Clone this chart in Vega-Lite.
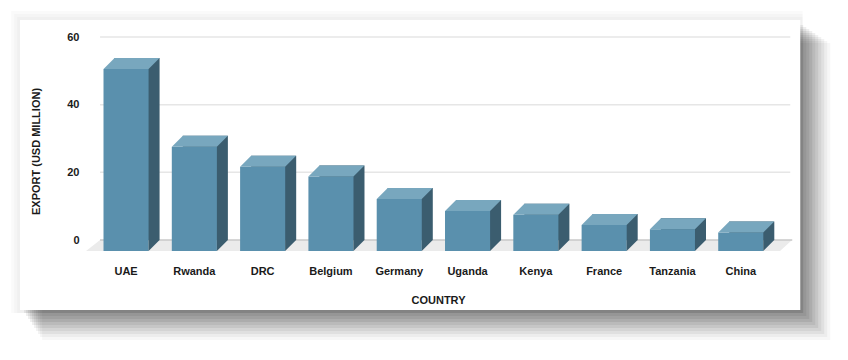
{
  "$schema": "https://vega.github.io/schema/vega-lite/v6.json",
  "width": 704,
  "height": 214,
  "autosize": "none",
  "padding": {"left": 86, "top": 37, "right": 58, "bottom": 109},
  "background": "#ffffff",
  "config": {
    "view": {"stroke": null},
    "font": "Liberation Sans",
    "axis": {
      "labelFont": "Liberation Sans",
      "labelFontWeight": "bold",
      "labelFontSize": 11,
      "labelColor": "#1a1a1a",
      "titleFont": "Liberation Sans",
      "titleFontWeight": "bold",
      "titleFontSize": 11,
      "titleColor": "#1a1a1a",
      "domain": false,
      "ticks": false,
      "grid": false
    },
    "axisX": {"labelAngle": 0, "labelAlign": "center", "labelPadding": 14, "titlePadding": 18},
    "axisY": {"labelPadding": 7, "titlePadding": 25, "tickCount": 4, "titleY": 114}
  },
  "data": {"values": [
    {"country": "UAE", "value": 53.8},
    {"country": "Rwanda", "value": 30.8},
    {"country": "DRC", "value": 24.9},
    {"country": "Belgium", "value": 22.0},
    {"country": "Germany", "value": 15.4},
    {"country": "Uganda", "value": 11.8},
    {"country": "Kenya", "value": 10.7},
    {"country": "France", "value": 7.7},
    {"country": "Tanzania", "value": 6.4},
    {"country": "China", "value": 5.5}
  ]},
  "encoding": {
    "x": {"field": "country", "type": "nominal", "title": "COUNTRY", "axis": {"zindex": 2},
      "scale": {"domain": ["UAE", "Rwanda", "DRC", "Belgium", "Germany", "Uganda", "Kenya", "France", "Tanzania", "China"],
        "paddingInner": 0.34, "paddingOuter": 0.3236, "align": 0.396}}
  },
  "layer": [
    {"data": {"values": [{}]}, "mark": {"type": "rect", "color": "#000000", "opacity": 0.02, "xOffset": -115, "x2Offset": 62, "yOffset": -26, "y2Offset": 62},
      "encoding": {"x": {"datum": "UAE", "type": "nominal", "title": "COUNTRY", "axis": {"zindex": 2}}, "x2": {"datum": "China"}, "y": {"datum": 60, "type": "quantitative", "title": "EXPORT (USD MILLION)", "axis": {"zindex": 2}}, "y2": {"datum": -3.25}}},
    {"data": {"values": [{}]}, "mark": {"type": "rect", "color": "#000000", "opacity": 0.02, "xOffset": -112, "x2Offset": 62, "yOffset": -23, "y2Offset": 62},
      "encoding": {"x": {"datum": "UAE", "type": "nominal", "title": "COUNTRY", "axis": {"zindex": 2}}, "x2": {"datum": "China"}, "y": {"datum": 60, "type": "quantitative", "title": "EXPORT (USD MILLION)", "axis": {"zindex": 2}}, "y2": {"datum": -3.25}}},
    {"data": {"values": [{}]}, "mark": {"type": "rect", "color": "#000000", "opacity": 0.02, "xOffset": -109, "x2Offset": 62, "yOffset": -20, "y2Offset": 62},
      "encoding": {"x": {"datum": "UAE", "type": "nominal", "title": "COUNTRY", "axis": {"zindex": 2}}, "x2": {"datum": "China"}, "y": {"datum": 60, "type": "quantitative", "title": "EXPORT (USD MILLION)", "axis": {"zindex": 2}}, "y2": {"datum": -3.25}}},
    {"data": {"values": [{}]}, "mark": {"type": "rect", "color": "#000000", "opacity": 0.065, "xOffset": -102, "x2Offset": 62.5, "yOffset": -12, "y2Offset": 62},
      "encoding": {"x": {"datum": "UAE", "type": "nominal", "title": "COUNTRY", "axis": {"zindex": 2}}, "x2": {"datum": "China"}, "y": {"datum": 60, "type": "quantitative", "title": "EXPORT (USD MILLION)", "axis": {"zindex": 2}}, "y2": {"datum": -3.25}}},
    {"data": {"values": [{}]}, "mark": {"type": "rect", "color": "#000000", "opacity": 0.065, "xOffset": -100, "x2Offset": 65.5, "yOffset": -10, "y2Offset": 65},
      "encoding": {"x": {"datum": "UAE", "type": "nominal", "title": "COUNTRY", "axis": {"zindex": 2}}, "x2": {"datum": "China"}, "y": {"datum": 60, "type": "quantitative", "title": "EXPORT (USD MILLION)", "axis": {"zindex": 2}}, "y2": {"datum": -3.25}}},
    {"data": {"values": [{}]}, "mark": {"type": "rect", "color": "#000000", "opacity": 0.065, "xOffset": -98, "x2Offset": 68.5, "yOffset": -8, "y2Offset": 68},
      "encoding": {"x": {"datum": "UAE", "type": "nominal", "title": "COUNTRY", "axis": {"zindex": 2}}, "x2": {"datum": "China"}, "y": {"datum": 60, "type": "quantitative", "title": "EXPORT (USD MILLION)", "axis": {"zindex": 2}}, "y2": {"datum": -3.25}}},
    {"data": {"values": [{}]}, "mark": {"type": "rect", "color": "#000000", "opacity": 0.065, "xOffset": -96, "x2Offset": 71.5, "yOffset": -6, "y2Offset": 71},
      "encoding": {"x": {"datum": "UAE", "type": "nominal", "title": "COUNTRY", "axis": {"zindex": 2}}, "x2": {"datum": "China"}, "y": {"datum": 60, "type": "quantitative", "title": "EXPORT (USD MILLION)", "axis": {"zindex": 2}}, "y2": {"datum": -3.25}}},
    {"data": {"values": [{}]}, "mark": {"type": "rect", "color": "#000000", "opacity": 0.065, "xOffset": -94, "x2Offset": 74.5, "yOffset": -4, "y2Offset": 74},
      "encoding": {"x": {"datum": "UAE", "type": "nominal", "title": "COUNTRY", "axis": {"zindex": 2}}, "x2": {"datum": "China"}, "y": {"datum": 60, "type": "quantitative", "title": "EXPORT (USD MILLION)", "axis": {"zindex": 2}}, "y2": {"datum": -3.25}}},
    {"data": {"values": [{}]}, "mark": {"type": "rect", "color": "#000000", "opacity": 0.06, "xOffset": -92, "x2Offset": 77.5, "yOffset": -2, "y2Offset": 77},
      "encoding": {"x": {"datum": "UAE", "type": "nominal", "title": "COUNTRY", "axis": {"zindex": 2}}, "x2": {"datum": "China"}, "y": {"datum": 60, "type": "quantitative", "title": "EXPORT (USD MILLION)", "axis": {"zindex": 2}}, "y2": {"datum": -3.25}}},
    {"data": {"values": [{}]}, "mark": {"type": "rect", "color": "#000000", "opacity": 0.055, "xOffset": -90, "x2Offset": 80.5, "yOffset": 0, "y2Offset": 80},
      "encoding": {"x": {"datum": "UAE", "type": "nominal", "title": "COUNTRY", "axis": {"zindex": 2}}, "x2": {"datum": "China"}, "y": {"datum": 60, "type": "quantitative", "title": "EXPORT (USD MILLION)", "axis": {"zindex": 2}}, "y2": {"datum": -3.25}}},
    {"data": {"values": [{}]}, "mark": {"type": "rect", "color": "#000000", "opacity": 0.05, "xOffset": -88, "x2Offset": 83.5, "yOffset": 2, "y2Offset": 83},
      "encoding": {"x": {"datum": "UAE", "type": "nominal", "title": "COUNTRY", "axis": {"zindex": 2}}, "x2": {"datum": "China"}, "y": {"datum": 60, "type": "quantitative", "title": "EXPORT (USD MILLION)", "axis": {"zindex": 2}}, "y2": {"datum": -3.25}}},
    {"data": {"values": [{}]}, "mark": {"type": "rect", "color": "#000000", "opacity": 0.04, "xOffset": -86, "x2Offset": 86.5, "yOffset": 4, "y2Offset": 86},
      "encoding": {"x": {"datum": "UAE", "type": "nominal", "title": "COUNTRY", "axis": {"zindex": 2}}, "x2": {"datum": "China"}, "y": {"datum": 60, "type": "quantitative", "title": "EXPORT (USD MILLION)", "axis": {"zindex": 2}}, "y2": {"datum": -3.25}}},
    {"data": {"values": [{}]}, "mark": {"type": "rect", "color": "#000000", "opacity": 0.03, "xOffset": -84, "x2Offset": 89.5, "yOffset": 6, "y2Offset": 89},
      "encoding": {"x": {"datum": "UAE", "type": "nominal", "title": "COUNTRY", "axis": {"zindex": 2}}, "x2": {"datum": "China"}, "y": {"datum": 60, "type": "quantitative", "title": "EXPORT (USD MILLION)", "axis": {"zindex": 2}}, "y2": {"datum": -3.25}}},
    {"data": {"values": [{}]}, "mark": {"type": "rect", "color": "#ffffff", "opacity": 1, "xOffset": -106, "x2Offset": 59.5, "yOffset": -17, "y2Offset": 59},
      "encoding": {"x": {"datum": "UAE", "type": "nominal", "title": "COUNTRY", "axis": {"zindex": 2}}, "x2": {"datum": "China"}, "y": {"datum": 60, "type": "quantitative", "title": "EXPORT (USD MILLION)", "axis": {"zindex": 2}}, "y2": {"datum": -3.25}}},
    {
      "data": {"values": [{"v": 20}, {"v": 40}, {"v": 60}]},
      "mark": {"type": "rule", "color": "#e6e6e6", "strokeWidth": 1.5, "xOffset": -26, "x2Offset": 49.5},
      "encoding": {
        "x": {"datum": "UAE", "type": "nominal", "title": "COUNTRY", "axis": {"zindex": 2}},
        "x2": {"datum": "China"},
        "y": {"field": "v", "type": "quantitative", "title": "EXPORT (USD MILLION)", "axis": {"zindex": 2}}
      }
    },
    {
      "transform": [{"filter": "datum.country === 'UAE'"}],
      "mark": {"type": "point", "filled": true, "opacity": 1, "strokeWidth": 0, "color": "#ebebeb", "size": 1774224,
        "shape": "M -0.03904 0 L 1 0 L 0.98198 0.016517 L -0.06006 0.016517 Z"},
      "encoding": {
        "y": {"datum": 0, "type": "quantitative", "title": "EXPORT (USD MILLION)", "axis": {"zindex": 2}}
      }
    },
    {
      "data": {"values": [{}]},
      "mark": {"type": "rule", "color": "#c8c8c8", "strokeWidth": 1.5, "xOffset": -26, "x2Offset": 51.5},
      "encoding": {
        "x": {"datum": "UAE", "type": "nominal", "title": "COUNTRY", "axis": {"zindex": 2}},
        "x2": {"datum": "China"},
        "y": {"datum": 0, "type": "quantitative", "title": "EXPORT (USD MILLION)", "axis": {"zindex": 2}}
      }
    },
    {
      "mark": {"type": "bar", "color": "#3b5d6f", "xOffset": 11, "x2Offset": 11},
      "encoding": {
        "y": {"field": "value", "type": "quantitative", "title": "EXPORT (USD MILLION)", "axis": {"zindex": 2}},
        "y2": {"datum": 0}
      }
    },
    {
      "mark": {"type": "bar", "color": "#5a90ad", "yOffset": 11, "y2Offset": 11},
      "encoding": {
        "y": {"field": "value", "type": "quantitative", "title": "EXPORT (USD MILLION)", "axis": {"zindex": 2},
          "scale": {"domain": [-3.25, 60], "nice": false, "zero": false}},
        "y2": {"datum": 0}
      }
    },
    {
      "mark": {"type": "point", "filled": true, "opacity": 1, "strokeWidth": 0, "color": "#78a7be", "size": 4489,
        "shape": "M -0.6716 0.3284 L 0.6716 0.3284 L 1 0 L -0.3433 0 Z"},
      "encoding": {
        "y": {"field": "value", "type": "quantitative", "title": "EXPORT (USD MILLION)", "axis": {"zindex": 2}}
      }
    },
    {
      "mark": {"type": "point", "filled": true, "opacity": 1, "strokeWidth": 0, "color": "#3b5d6f", "size": 4489,
        "shape": "M 0.6716 0 L 1 0 L 0.6716 0.3284 Z"},
      "encoding": {
        "y": {"datum": 0, "type": "quantitative", "title": "EXPORT (USD MILLION)", "axis": {"zindex": 2}}
      }
    }
  ]
}
